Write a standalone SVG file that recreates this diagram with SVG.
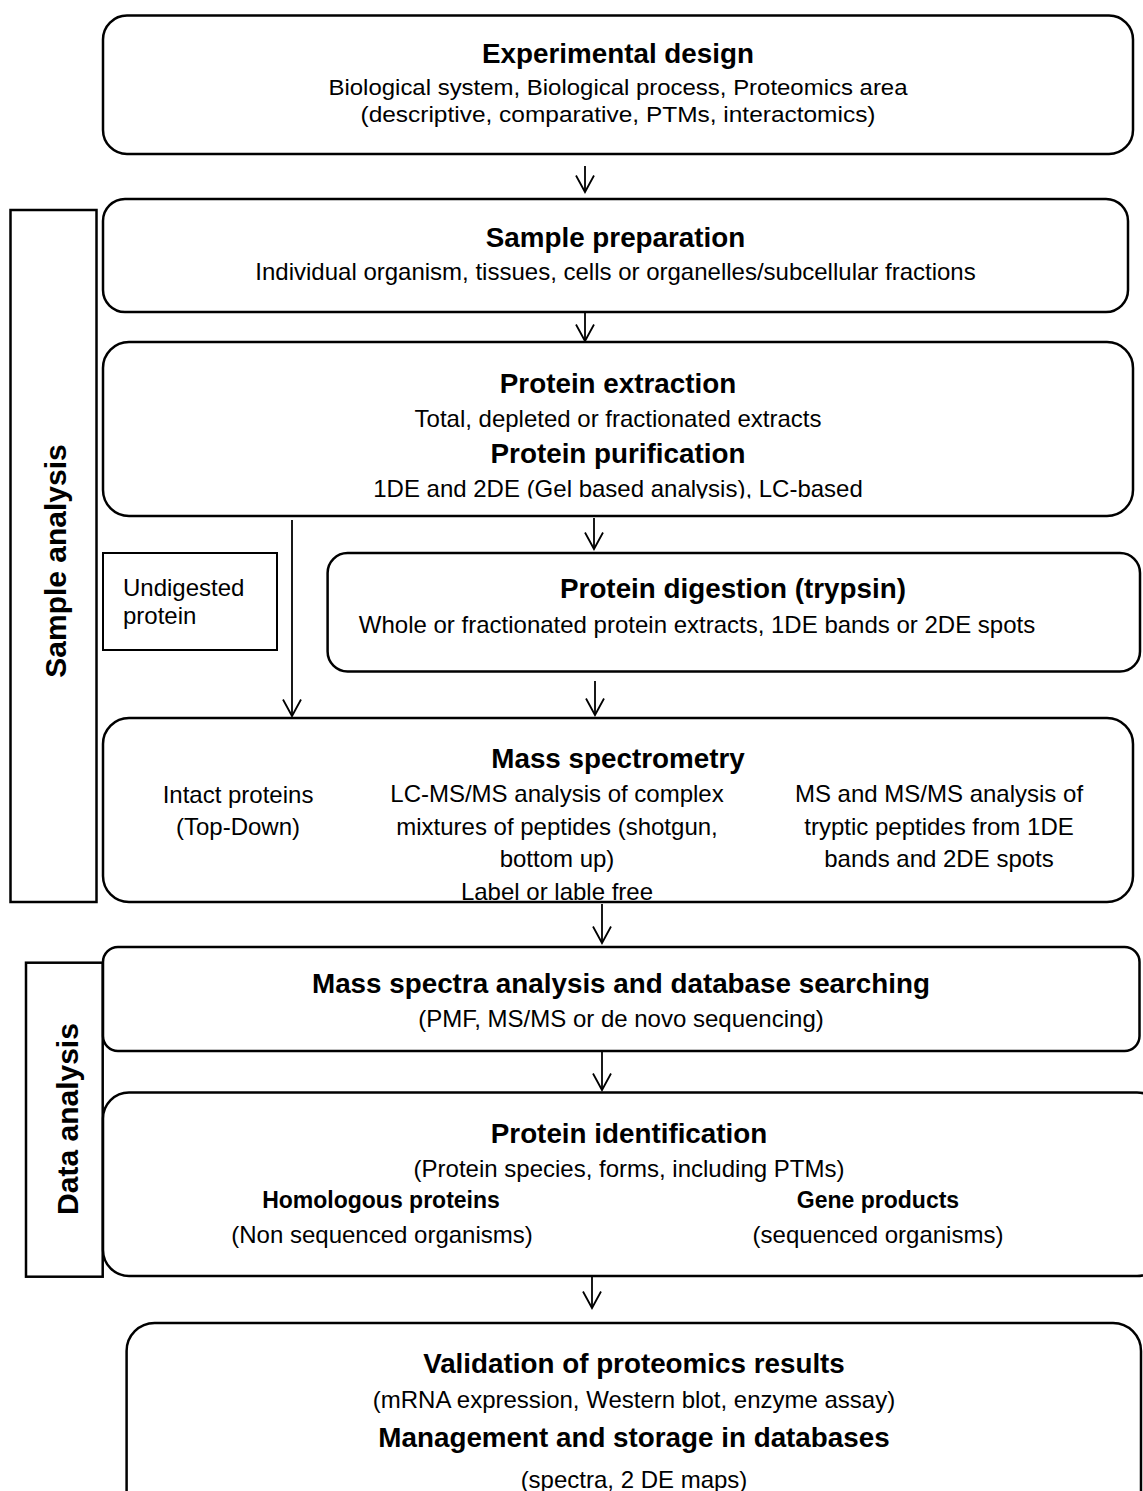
<svg xmlns="http://www.w3.org/2000/svg" width="1143" height="1491" viewBox="0 0 1143 1491">
<style>
.box{fill:#fff;stroke:#000;stroke-width:2.5}
.ubox{fill:#fff;stroke:#000;stroke-width:2}
.t{font-family:"Liberation Sans",Arial,sans-serif;font-size:24px;fill:#000;text-anchor:middle}
.l{text-anchor:start}
.n{font-size:22.5px}
.b{font-weight:bold;font-size:27.8px}
.sb{font-weight:bold;font-size:23px}
.side{font-weight:bold;font-size:30px}
.conn{stroke:#000;stroke-width:1.8;fill:none;marker-end:url(#ah)}
</style>
<defs>
<marker id="ah" markerUnits="userSpaceOnUse" markerWidth="20" markerHeight="20" refX="17" refY="9.5" orient="auto">
<path d="M0.5,0.5 L17,9.5 L0.5,18.5" fill="none" stroke="#000" stroke-width="1.8"/>
</marker>
<clipPath id="clip3"><rect x="100" y="340" width="1040" height="158.5"/></clipPath>
</defs>
<rect width="1143" height="1491" fill="#fff"/>

<g id="sample-analysis">
<rect class="box" x="10.5" y="210" width="86" height="692"/>
<text class="t side" transform="translate(65.5,561) rotate(-90)">Sample analysis</text>
</g>
<g id="data-analysis">
<rect class="box" x="26" y="962.7" width="76.7" height="314"/>
<text class="t side" transform="translate(78,1119) rotate(-90)">Data analysis</text>
</g>

<g id="experimental-design">
<rect class="box" x="103" y="15.5" width="1030" height="138.5" rx="24"/>
<text class="t b" x="618" y="63">Experimental design</text>
<text class="t n" x="618" y="95" textLength="579" lengthAdjust="spacingAndGlyphs">Biological system, Biological process, Proteomics area</text>
<text class="t n" x="618" y="122" textLength="515" lengthAdjust="spacingAndGlyphs">(descriptive, comparative, PTMs, interactomics)</text>
</g>

<g id="sample-preparation">
<rect class="box" x="103" y="199" width="1025" height="113" rx="22"/>
<text class="t b" x="615.5" y="247">Sample preparation</text>
<text class="t" x="615.5" y="280">Individual organism, tissues, cells or organelles/subcellular fractions</text>
</g>

<g id="protein-extraction">
<rect class="box" x="103" y="342" width="1030" height="174" rx="26"/>
<text class="t b" x="618" y="393">Protein extraction</text>
<text class="t" x="618" y="427">Total, depleted or fractionated extracts</text>
<text class="t b" x="618" y="463">Protein purification</text>
<text class="t" x="618" y="497" clip-path="url(#clip3)">1DE and 2DE (Gel based analysis), LC-based</text>
</g>

<g id="undigested-protein">
<rect class="ubox" x="103" y="553" width="174" height="97"/>
<text class="t l" x="123" y="596">Undigested</text>
<text class="t l" x="123" y="624">protein</text>
</g>

<g id="protein-digestion">
<rect class="box" x="327.6" y="553" width="812.4" height="118.5" rx="20"/>
<text class="t b" x="733" y="598">Protein digestion (trypsin)</text>
<text class="t" x="697" y="633">Whole or fractionated protein extracts, 1DE bands or 2DE spots</text>
</g>

<g id="mass-spectrometry">
<rect class="box" x="103" y="718" width="1030" height="184" rx="26"/>
<text class="t b" x="618" y="768">Mass spectrometry</text>
<text class="t" x="238" y="803">Intact proteins</text>
<text class="t" x="238" y="835">(Top-Down)</text>
<text class="t" x="557" y="802">LC-MS/MS analysis of complex</text>
<text class="t" x="557" y="835">mixtures of peptides (shotgun,</text>
<text class="t" x="557" y="867">bottom up)</text>
<text class="t" x="557" y="900">Label or lable free</text>
<text class="t" x="939" y="802">MS and MS/MS analysis of</text>
<text class="t" x="939" y="835">tryptic peptides from 1DE</text>
<text class="t" x="939" y="867">bands and 2DE spots</text>
</g>

<g id="mass-spectra-analysis">
<rect class="box" x="103" y="947" width="1036.5" height="104" rx="15"/>
<text class="t b" x="621" y="993">Mass spectra analysis and database searching</text>
<text class="t" x="621" y="1027">(PMF, MS/MS or de novo sequencing)</text>
</g>

<g id="protein-identification">
<rect class="box" x="103" y="1092.5" width="1060" height="183.5" rx="26"/>
<text class="t b" x="629" y="1143">Protein identification</text>
<text class="t" x="629" y="1177">(Protein species, forms, including PTMs)</text>
<text class="t sb" x="381" y="1208">Homologous proteins</text>
<text class="t" x="382" y="1243">(Non sequenced organisms)</text>
<text class="t sb" x="878" y="1208">Gene products</text>
<text class="t" x="878" y="1243">(sequenced organisms)</text>
</g>

<g id="validation">
<rect class="box" x="126.6" y="1323" width="1014.4" height="230" rx="28"/>
<text class="t b" x="634" y="1373">Validation of proteomics results</text>
<text class="t" x="634" y="1408">(mRNA expression, Western blot, enzyme assay)</text>
<text class="t b" x="634" y="1447">Management and storage in databases</text>
<text class="t" x="634" y="1488">(spectra, 2 DE maps)</text>
</g>

<g id="connectors">
<path class="conn" d="M585,166 V192"/>
<path class="conn" d="M585,313 V341"/>
<path class="conn" d="M594,518 V549"/>
<path class="conn" d="M595,681 V715"/>
<path class="conn" d="M602,904 V943"/>
<path class="conn" d="M602,1052 V1090"/>
<path class="conn" d="M592,1277 V1308"/>
<path class="conn" d="M292,520 V716"/>
</g>
</svg>
